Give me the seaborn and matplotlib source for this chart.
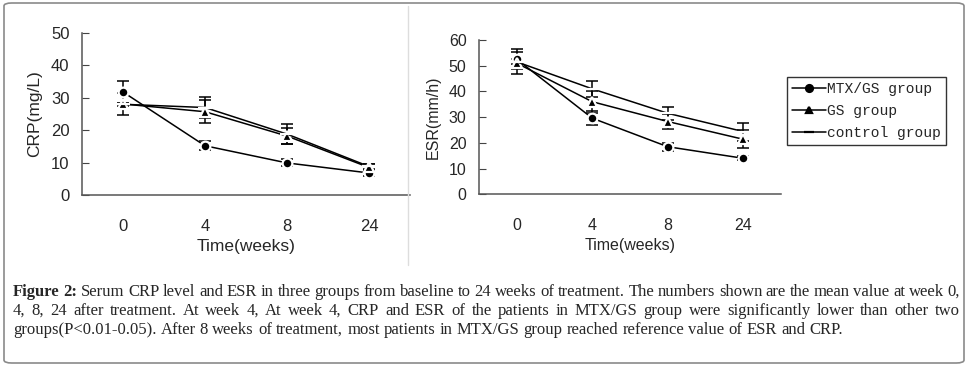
import pandas as pd
import matplotlib.pyplot as plt
import seaborn as sns
from matplotlib.lines import Line2D
from matplotlib.patches import FancyBboxPatch

weeks = ['0', '4', '8', '24']
groups = ['MTX/GS group', 'GS group', 'control group']

crp_mtx = [31.8, 15.2, 9.9, 6.8]
crp_gs = [28.1, 25.7, 18.2, 8.5]
crp_ctl = [28.0, 27.0, 18.8, 8.8]
crp_mtx_sd = [3.4, 1.4, 1.1, 0.8]
crp_gs_sd = [3.4, 3.6, 2.5, 1.0]
crp_ctl_sd = [0.5, 3.2, 3.0, 0.8]

esr_mtx = [52.5, 29.6, 18.5, 14.0]
esr_gs = [51.0, 36.0, 28.3, 21.4]
esr_ctl = [51.5, 41.0, 31.5, 24.4]
esr_mtx_sd = [3.9, 2.6, 1.5, 0.8]
esr_gs_sd = [4.2, 4.2, 3.0, 3.5]
esr_ctl_sd = [1.0, 3.2, 2.6, 3.5]

caption = [
    "Figure 2: Serum CRP level and ESR in three groups from baseline to 24 weeks of treatment. The numbers shown are the mean value at week 0,",
    "4, 8, 24 after treatment. At week 4, At week 4, CRP and ESR of the patients in MTX/GS group were significantly lower than other two",
    "groups(P<0.01-0.05). After 8 weeks of treatment, most patients in MTX/GS group reached reference value of ESR and CRP.",
]

sns.set_style('white')
plt.rcParams['font.family'] = ['Liberation Sans', 'DejaVu Sans']

markers = {'MTX/GS group': 'o', 'GS group': '^', 'control group': '_'}
msizes = {'MTX/GS group': 7, 'GS group': 7, 'control group': 10}


def make_df(mtx, gs, ctl, mtx_sd, gs_sd, ctl_sd):
    rows = []
    for g, vals, sds in zip(groups, [mtx, gs, ctl], [mtx_sd, gs_sd, ctl_sd]):
        for i, (v, s) in enumerate(zip(vals, sds)):
            rows.append({'pos': i, 'week': weeks[i], 'group': g, 'value': v, 'sd': s})
    return pd.DataFrame(rows)


def draw(ax, df, ymax, ylabel, fs, lfs):
    for g in groups:
        d = df[df.group == g]
        sns.lineplot(data=d, x='pos', y='value', marker=markers[g],
                     color='black', linewidth=1.1, markersize=msizes[g],
                     markeredgewidth=1.6, legend=False, ax=ax, zorder=3)
        ax.errorbar(d.pos, d.value, yerr=d.sd, fmt='none', ecolor='black',
                    elinewidth=1.1, capsize=4.5, capthick=1.1, zorder=2)
    ax.set_xlim(-0.5, 3.5)
    ax.set_ylim(0, ymax)
    ax.set_yticks(range(0, ymax + 1, 10))
    ax.set_xticks(range(4))
    ax.set_xticklabels(weeks)
    ax.set_xticks([-0.5, 0.5, 1.5, 2.5, 3.5], minor=True)
    ax.tick_params(axis='x', which='major', length=0, pad=17, labelsize=fs)
    ax.tick_params(axis='x', which='minor', length=5, direction='in',
                   color='#444', width=1)
    ax.tick_params(axis='y', length=5, direction='in', color='#444', pad=9,
                   labelsize=fs, left=True)
    for s in ['top', 'right']:
        ax.spines[s].set_visible(False)
    for s in ['left', 'bottom']:
        ax.spines[s].set_color('#555')
        ax.spines[s].set_linewidth(1.1)
    ax.set_xlabel('Time(weeks)', fontsize=lfs, labelpad=4)
    ax.set_ylabel(ylabel, fontsize=lfs, labelpad=6)


fig = plt.figure(figsize=(9.69, 3.68), dpi=100)
W, H = 969, 368

ax1 = fig.add_axes([82 / W, 1 - 195 / H, 328 / W, 162 / H])
ax2 = fig.add_axes([479 / W, 1 - 194.3 / H, 302 / W, 154.3 / H])

crp = make_df(crp_mtx, crp_gs, crp_ctl, crp_mtx_sd, crp_gs_sd, crp_ctl_sd)
esr = make_df(esr_mtx, esr_gs, esr_ctl, esr_mtx_sd, esr_gs_sd, esr_ctl_sd)
draw(ax1, crp, 50, 'CRP(mg/L)', 12, 12.5)
draw(ax2, esr, 60, 'ESR(mm/h)', 11.5, 11.5)

handles = [Line2D([], [], color='black', lw=1.1, marker=markers[g],
                  markersize=5 if g != 'control group' else 7, markeredgewidth=1.6)
           for g in groups]
leg = fig.legend(handles, groups, loc='upper left',
                 bbox_to_anchor=(787 / W, 1 - 77 / H),
                 prop={'family': 'Liberation Mono', 'size': 10.5},
                 frameon=True, fancybox=False, edgecolor='black',
                 handlelength=2.3, handletextpad=0.1, borderpad=0.35,
                 labelspacing=0.55, borderaxespad=0)
leg.get_frame().set_linewidth(1.0)

# outer frame and separator
fig.patches.append(FancyBboxPatch((4 / W, 5 / H), 960 / W, 360 / H,
                                  boxstyle='round,pad=0,rounding_size=0.008',
                                  transform=fig.transFigure, fill=False,
                                  edgecolor='#8a8a8a', linewidth=1.2))
fig.add_artist(Line2D([408 / W, 408 / W], [1 - 265 / H, 1 - 6 / H],
                      transform=fig.transFigure, color='#dddddd', lw=1))

# justified caption
renderer = fig.canvas.get_renderer()
x_left, x_right = 13, 960
ys = [296, 315, 334]
cap_font = {'family': 'Liberation Serif', 'size': 12}
probe1 = fig.text(0, 0, 'a a', fontdict=cap_font)
probe2 = fig.text(0, 0, 'aa', fontdict=cap_font)
space = probe1.get_window_extent(renderer).width - probe2.get_window_extent(renderer).width
probe1.remove()
probe2.remove()
for li, (line, yy) in enumerate(zip(caption, ys)):
    words = line.split(' ')
    texts = []
    for wi, w in enumerate(words):
        bold = li == 0 and wi < 2
        t = fig.text(0, 1 - yy / H, w, fontdict=cap_font,
                     fontweight='bold' if bold else 'normal', va='baseline', ha='left')
        texts.append(t)
    widths = [t.get_window_extent(renderer).width for t in texts]
    if li < 2:
        gap = (x_right - x_left - sum(widths)) / (len(words) - 1)
    else:
        gap = space
    x = x_left
    for t, w in zip(texts, widths):
        t.set_x(x / W)
        x += w + gap

fig.savefig('out.png', dpi=100, facecolor='white')
